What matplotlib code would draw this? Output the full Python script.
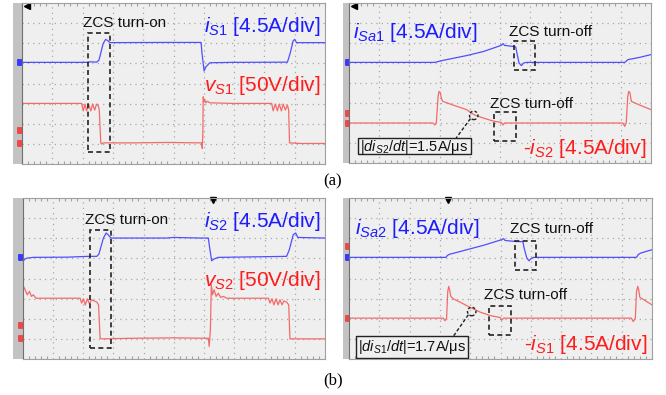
import numpy as np
import matplotlib
matplotlib.use('Agg')
import matplotlib.pyplot as plt
from matplotlib.patches import Rectangle, Ellipse

plt.rcParams['font.family'] = ['Liberation Sans', 'DejaVu Sans']
plt.rcParams['mathtext.fontset'] = 'custom'
plt.rcParams['mathtext.rm'] = 'Liberation Sans'
plt.rcParams['mathtext.it'] = 'Liberation Sans:italic'
plt.rcParams['mathtext.bf'] = 'Liberation Sans:bold'

# scope traces, read in screen divisions (x: 0-10 div, y: 0-8 div)
# (a) left: iS1 (blue), vS1 (red)
a_is1_t = [0, 2.19, 2.24, 2.46, 2.54, 2.68, 2.76, 2.83, 2.90, 4.77, 5.91, 5.94, 6.01, 6.07, 6.20, 6.97, 8.76, 8.85, 8.95, 9.00, 9.06, 10.0]
a_is1_v = [5.05, 5.05, 5.08, 5.06, 5.16, 5.99, 6.19, 6.13, 6.03, 6.04, 6.04, 5.50, 4.62, 4.83, 5.03, 5.05, 5.06, 5.50, 6.13, 6.19, 6.03, 6.03]
a_vs1_t = [0, 1.97, 2.02, 2.08, 2.13, 2.20, 2.27, 2.33, 2.40, 2.46, 2.52, 2.55, 2.60, 2.63, 2.68, 3.67, 4.77, 5.93, 5.95, 5.97,
           5.98, 6.01, 6.03, 6.06, 6.12, 6.20, 6.97, 8.24, 8.29, 8.36, 8.43, 8.49, 8.56, 8.62, 8.69, 8.76, 8.80, 8.83, 9.17, 10.0]
a_vs1_v = [3.01, 3.01, 2.64, 2.98, 2.64, 2.98, 2.64, 2.98, 2.68, 2.98, 2.88, 2.68, 1.05, 0.99, 1.05, 1.05, 1.07, 1.05, 0.77, 1.60,
           3.34, 3.09, 3.21, 3.04, 3.12, 3.04, 3.01, 3.01, 2.64, 2.98, 2.64, 2.98, 2.64, 2.98, 2.68, 2.93, 2.68, 1.05, 1.02, 1.02]
# (a) right: iSa1 (blue), -iS2 (red)
a_isa1_t = [0, 2.84, 3.11, 3.89, 4.44, 5.04, 5.10, 5.15, 5.43, 5.52, 5.56, 5.63, 5.71, 5.78, 5.87, 7.20, 9.13, 9.24, 9.62, 10.0]
a_isa1_v = [5.03, 5.03, 5.13, 5.37, 5.57, 5.88, 5.97, 5.88, 5.83, 5.80, 5.50, 5.00, 4.87, 5.00, 5.03, 5.03, 5.03, 5.17, 5.28, 5.42]
a_is2_t = [0, 2.78, 2.84, 2.89, 2.95, 2.98, 3.02, 3.07, 3.11, 3.44, 3.89, 4.13, 4.44, 4.77, 5.04, 5.10, 5.15, 5.43, 7.20,
           9.07, 9.13, 9.18, 9.23, 9.26, 9.30, 9.35, 9.62, 10.0]
a_is2_v = [2.0, 2.0, 1.9, 2.0, 3.33, 3.58, 3.53, 3.17, 3.08, 2.90, 2.67, 2.42, 2.25, 2.10, 2.03, 1.90, 2.0, 2.0, 2.0,
           2.0, 1.83, 2.0, 3.33, 3.58, 3.53, 3.08, 2.90, 2.67]
# (b) left: iS2 (blue), vS2 (red)
b_is2_t = [0, 0.04, 0.13, 0.35, 1.46, 2.17, 2.45, 2.52, 2.67, 2.76, 2.82, 2.92, 4.76, 4.98, 5.87, 6.14, 6.17, 6.25, 6.33, 6.47,
           6.97, 8.73, 8.82, 8.95, 9.03, 9.10, 10.0]
b_is2_v = [4.73, 4.93, 5.01, 5.05, 5.06, 5.10, 5.10, 5.21, 6.01, 6.26, 6.18, 6.01, 6.01, 6.04, 6.01, 6.01, 5.68, 4.88, 4.97, 5.05,
           5.06, 5.10, 5.43, 6.18, 6.26, 6.04, 6.01]
b_vs2_t = [0, 0.08, 0.15, 0.22, 0.29, 0.35, 0.44, 1.90, 1.95, 2.01, 2.07, 2.14, 2.21, 2.27, 2.36, 2.45, 2.51, 2.56, 2.61, 3.66,
           4.98, 6.14, 6.17, 6.21, 6.24, 6.28, 6.33, 6.40, 6.47, 6.55, 6.64, 6.75, 8.13, 8.18, 8.25, 8.31, 8.38, 8.45, 8.51,
           8.58, 8.64, 8.73, 8.80, 8.84, 10.0]
b_vs2_v = [3.69, 3.44, 3.19, 3.36, 3.11, 3.19, 3.02, 3.02, 2.78, 2.99, 2.69, 2.99, 2.73, 2.94, 2.89, 2.83, 2.69, 1.03, 1.00, 1.03,
           1.05, 1.03, 0.62, 1.52, 3.69, 3.19, 3.44, 3.11, 3.27, 3.06, 3.11, 3.02, 3.02, 2.78, 2.99, 2.69, 2.99, 2.69, 2.94,
           2.69, 2.89, 2.83, 2.69, 1.00, 1.00]
# (b) right: iSa2 (blue), -iS1 (red)
b_isa2_t = [0, 3.20, 3.25, 3.33, 3.44, 3.89, 4.44, 5.04, 5.10, 5.15, 5.49, 5.74, 5.78, 5.87, 5.94, 6.00, 6.09, 7.20, 9.49, 9.54, 9.62, 10.0]
b_isa2_v = [5.05, 5.05, 5.15, 5.21, 5.25, 5.43, 5.65, 5.93, 5.98, 5.89, 5.84, 5.83, 5.51, 5.01, 4.88, 4.98, 5.05, 5.05, 5.05, 5.18, 5.26, 5.43]
b_is1_t = [0, 3.11, 3.17, 3.22, 3.26, 3.29, 3.32, 3.36, 3.44, 3.66, 4.00, 4.33, 4.66, 4.99, 5.04, 5.10, 5.43, 7.20,
           9.32, 9.38, 9.45, 9.49, 9.53, 9.56, 9.60, 9.79, 10.0]
b_is1_v = [2.03, 2.03, 1.90, 2.03, 3.36, 3.61, 3.44, 3.11, 2.99, 2.83, 2.56, 2.33, 2.16, 2.06, 1.93, 2.03, 2.03, 2.03,
           2.03, 1.86, 2.03, 3.36, 3.61, 3.44, 3.06, 2.89, 2.69]

# channel marker levels on the left strip
a_left_blue_mk = [5.05]
a_left_red_mk = [1.68, 1.05]
a_right_blue_mk = [5.03]
a_right_red_mk = [2.5, 2.0]
b_left_blue_mk = [5.06]
b_left_red_mk = [1.70, 1.03]
b_right_blue_mk = [5.05]
b_right_red_mk = [5.60, 2.03]

W, H = 666, 395
BLUE_LN = '#4f4fff'
RED_LN = '#f46a6a'
BLUE_TX = '#1c1cff'
RED_TX = '#ff1c1c'
BG = '#efefef'

fig = plt.figure(figsize=(W / 100, H / 100), dpi=100)


def px_axes(x0, y0, x1, y1):
    return fig.add_axes([x0 / W, 1 - y1 / H, (x1 - x0) / W, (y1 - y0) / H])


arrow_mk = [(-1, -1), (0.3, -1), (1, 0), (0.3, 1), (-1, 1), (-1, -1)]


def make_panel(strip, plot, blue_mk, red_mk):
    sa = px_axes(*strip)
    sa.set_facecolor('#c3c3c3')
    sa.set_xlim(0, 1)
    sa.set_ylim(0, 8)
    sa.set_xticks([])
    sa.set_yticks([])
    for s in sa.spines.values():
        s.set_visible(False)
    ax = px_axes(*plot)
    ax.set_facecolor(BG)
    ax.set_xlim(0, 10)
    ax.set_ylim(0, 8)
    ax.set_xticks(np.arange(1, 10))
    ax.set_yticks(np.arange(1, 8))
    ax.tick_params(length=0, labelbottom=False, labelleft=False)
    ax.grid(True, color='#a8a8a8', lw=0.9, ls=(0, (1, 3.3)))
    for s in ax.spines.values():
        s.set_color('#a0a0a0')
        s.set_linewidth(0.8)
    ax.spines['left'].set_color('#707070')
    # small dotted ticks along the frame
    ax.set_xticks(np.arange(0, 10.01, 0.2), minor=True)
    ax.tick_params(which='minor', direction='in', length=2, color='#a0a0a0', width=0.8,
                   top=True, bottom=True, left=False, right=False)
    for y in blue_mk:
        sa.plot(0.82, y, marker=arrow_mk, ms=4, color='#3a3aff', clip_on=False, zorder=5)
    for y in red_mk:
        sa.plot(0.82, y, marker=arrow_mk, ms=4, color='#f04848', clip_on=False, zorder=5)
    return ax


def zcs_box(ax, x0, x1, y0, y1):
    ax.add_patch(Rectangle((x0, y0), x1 - x0, y1 - y0, fill=False, ec='#222222',
                           lw=1.2, ls=(0, (3, 2)), zorder=6))


axA = make_panel((13, 3, 22, 164), (22, 3, 325, 164), a_left_blue_mk, a_left_red_mk)
axB = make_panel((343, 3, 349, 163), (349, 3, 651, 163), a_right_blue_mk, a_right_red_mk)
axC = make_panel((13, 198, 22.7, 359), (22.7, 198, 325, 359), b_left_blue_mk, b_left_red_mk)
axD = make_panel((343, 198, 349, 359), (349, 198, 652, 359), b_right_blue_mk, b_right_red_mk)

axA.plot(a_is1_t, a_is1_v, color=BLUE_LN, lw=0.9)
axA.plot(a_vs1_t, a_vs1_v, color=RED_LN, lw=0.9)
axB.plot(a_isa1_t, a_isa1_v, color=BLUE_LN, lw=0.9)
axB.plot(a_is2_t, a_is2_v, color=RED_LN, lw=0.9)
axC.plot(b_is2_t, b_is2_v, color=BLUE_LN, lw=0.9)
axC.plot(b_vs2_t, b_vs2_v, color=RED_LN, lw=0.9)
axD.plot(b_isa2_t, b_isa2_v, color=BLUE_LN, lw=0.9)
axD.plot(b_is1_t, b_is1_v, color=RED_LN, lw=0.9)

# trigger / position markers
axA.plot(0.15, 7.85, marker='<', ms=4.5, color='black', clip_on=False)
axB.plot(0.15, 7.85, marker='<', ms=4.5, color='black', clip_on=False)
axC.plot(6.31, 7.92, marker='v', ms=4.5, color='black', clip_on=False)
axD.plot(3.28, 7.92, marker='v', ms=4.5, color='black', clip_on=False)

big = 15
small = 11

# (a) left
zcs_box(axA, 2.19, 2.90, 0.60, 6.49)
axA.text(3.40, 6.79, 'ZCS turn-on', ha='center', va='baseline', fontsize=small, color='#111111')
axA.text(9.83, 6.57, r'$\mathit{i}_{\mathit{S1}}$ [4.5A/div]', ha='right', va='baseline', fontsize=big, color=BLUE_TX)
axA.text(9.83, 3.64, r'$\mathit{v}_{\mathit{S1}}$ [50V/div]', ha='right', va='baseline', fontsize=big, color=RED_TX)

# (a) right
zcs_box(axB, 5.46, 6.17, 4.63, 6.08)
zcs_box(axB, 4.80, 5.54, 1.08, 2.53)
axB.text(0.13, 6.25, r'$\mathit{i}_{\mathit{Sa1}}$ [4.5A/div]', ha='left', va='baseline', fontsize=big, color=BLUE_TX)
axB.text(6.69, 6.37, 'ZCS turn-off', ha='center', va='baseline', fontsize=small, color='#111111')
axB.text(6.04, 2.75, 'ZCS turn-off', ha='center', va='baseline', fontsize=small, color='#111111')
axB.text(9.85, 0.47, r'-$\mathit{i}_{\mathit{S2}}$ [4.5A/div]', ha='right', va='baseline', fontsize=big, color=RED_TX)
axB.add_patch(Ellipse((4.13, 2.38), 0.28, 0.42, fill=False, ec='#222222', lw=1.0, ls=(0, (2, 1.5)), zorder=6))
axB.plot([4.02, 3.55], [2.22, 1.25], color='#222222', lw=1.0, ls=(0, (2.5, 1.5)), zorder=6)
axB.add_patch(Rectangle((0.30, 0.47), 3.75, 0.78, fc=BG, ec='#222222', lw=1.0, zorder=6))
axB.text(2.17, 0.62, r'|$\mathit{di}_{\mathit{S2}}\mathit{/dt}$|=1.5A/μs', ha='center', va='baseline',
         fontsize=10.5, color='#111111', zorder=7)

# (b) left
zcs_box(axC, 2.21, 2.92, 0.54, 6.42)
axC.text(3.44, 6.72, 'ZCS turn-on', ha='center', va='baseline', fontsize=small, color='#111111')
axC.text(9.83, 6.56, r'$\mathit{i}_{\mathit{S2}}$ [4.5A/div]', ha='right', va='baseline', fontsize=big, color=BLUE_TX)
axC.text(9.83, 3.61, r'$\mathit{v}_{\mathit{S2}}$ [50V/div]', ha='right', va='baseline', fontsize=big, color=RED_TX)

# (b) right
zcs_box(axD, 5.49, 6.18, 4.43, 5.88)
zcs_box(axD, 4.62, 5.34, 1.17, 2.61)
axD.text(0.19, 6.21, r'$\mathit{i}_{\mathit{Sa2}}$ [4.5A/div]', ha='left', va='baseline', fontsize=big, color=BLUE_TX)
axD.text(6.70, 6.26, 'ZCS turn-off', ha='center', va='baseline', fontsize=small, color='#111111')
axD.text(5.84, 2.99, 'ZCS turn-off', ha='center', va='baseline', fontsize=small, color='#111111')
axD.text(9.85, 0.45, r'-$\mathit{i}_{\mathit{S1}}$ [4.5A/div]', ha='right', va='baseline', fontsize=big, color=RED_TX)
axD.add_patch(Ellipse((4.05, 2.36), 0.28, 0.42, fill=False, ec='#222222', lw=1.0, ls=(0, (2, 1.5)), zorder=6))
axD.plot([3.94, 3.44], [2.20, 1.12], color='#222222', lw=1.0, ls=(0, (2.5, 1.5)), zorder=6)
axD.add_patch(Rectangle((0.22, 0.05), 3.72, 1.07, fc=BG, ec='#222222', lw=1.0, zorder=6))
axD.text(2.08, 0.38, r'|$\mathit{di}_{\mathit{S1}}\mathit{/dt}$|=1.7A/μs', ha='center', va='baseline',
         fontsize=10.5, color='#111111', zorder=7)

fig.text(333 / W, 1 - 181 / H, '(a)', ha='center', va='center', fontsize=12, family='Liberation Serif')
fig.text(333 / W, 1 - 380 / H, '(b)', ha='center', va='center', fontsize=12, family='Liberation Serif')

fig.savefig('out.png', dpi=100)
